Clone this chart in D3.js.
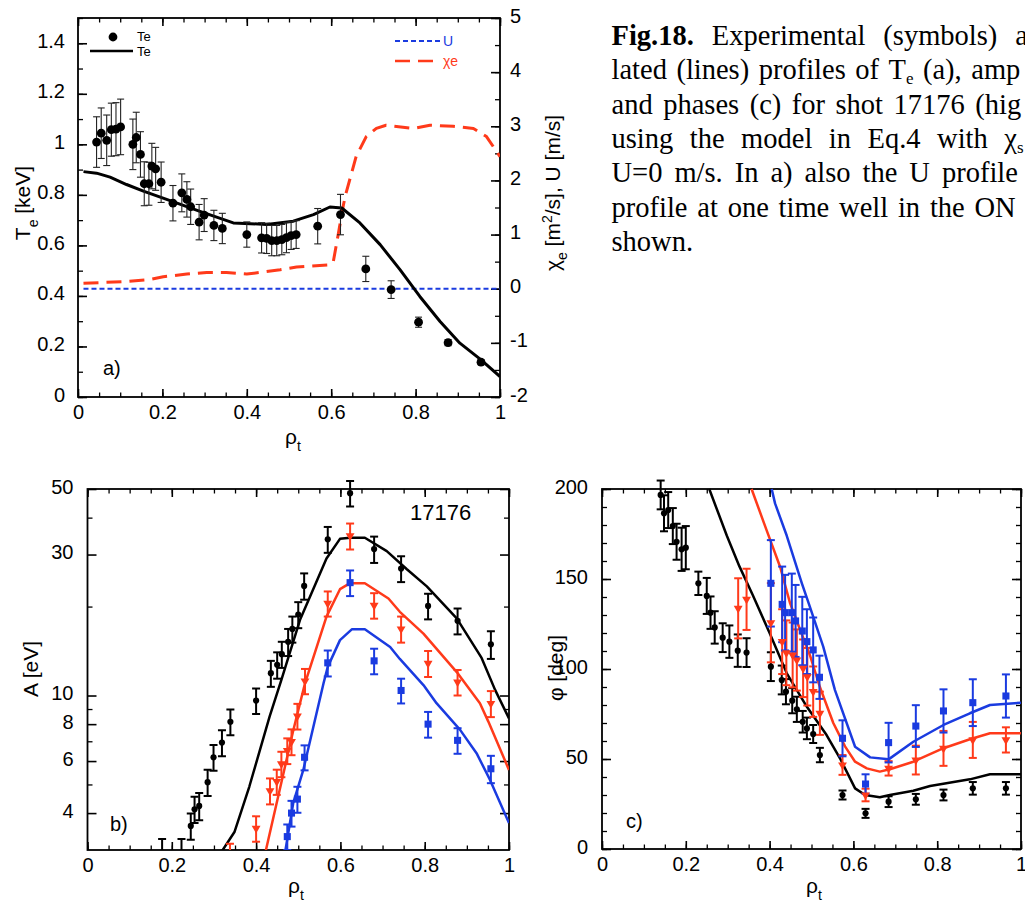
<!DOCTYPE html>
<html>
<head>
<meta charset="utf-8">
<script src="https://cdn.jsdelivr.net/npm/d3@7"></script>
<style>
  html, body { margin: 0; padding: 0; background: #fff; }
  svg { display: block; }
</style>
</head>
<body>
<svg id="fig" width="1025" height="906"></svg>
<script>
// ---------- data ----------
// a) Te points: [rho, Te keV, error]
const teData = [
  [0.044, 1.009, 0.10], [0.055, 1.044, 0.10], [0.068, 1.016, 0.10], [0.079, 1.058, 0.105],
  [0.090, 1.060, 0.105], [0.101, 1.069, 0.11], [0.130, 1.000, 0.10], [0.138, 1.027, 0.10],
  [0.148, 0.960, 0.09], [0.157, 0.844, 0.087], [0.168, 0.844, 0.085], [0.175, 0.914, 0.09],
  [0.184, 0.903, 0.085], [0.197, 0.850, 0.08], [0.225, 0.767, 0.07], [0.246, 0.808, 0.075],
  [0.258, 0.782, 0.07], [0.267, 0.753, 0.07], [0.287, 0.692, 0.07], [0.299, 0.720, 0.065],
  [0.322, 0.679, 0.06], [0.342, 0.667, 0.06], [0.400, 0.643, 0.05], [0.435, 0.630, 0.06],
  [0.447, 0.628, 0.06], [0.459, 0.619, 0.06], [0.471, 0.619, 0.06], [0.483, 0.623, 0.06],
  [0.494, 0.631, 0.06], [0.505, 0.639, 0.055], [0.517, 0.643, 0.055], [0.568, 0.676, 0.07],
  [0.622, 0.722, 0.08], [0.682, 0.507, 0.05], [0.742, 0.425, 0.035], [0.807, 0.296, 0.02],
  [0.877, 0.215, 0.012], [0.955, 0.138, 0.01]
];
// a) model Te line [rho, Te]
const teModel = [
  [0.013, 0.892], [0.044, 0.886], [0.076, 0.870], [0.115, 0.841], [0.155, 0.815],
  [0.21, 0.782], [0.289, 0.735], [0.368, 0.689], [0.447, 0.683], [0.51, 0.696],
  [0.558, 0.722], [0.597, 0.752], [0.625, 0.748], [0.668, 0.689], [0.716, 0.603],
  [0.763, 0.504], [0.81, 0.398], [0.858, 0.299], [0.905, 0.213], [0.953, 0.15], [1.0, 0.081]
];
// a) chi_e and U (right axis) [rho, value]
const chiModel = [
  [0.013, 0.10], [0.108, 0.13], [0.17, 0.17], [0.202, 0.22], [0.258, 0.27], [0.305, 0.30],
  [0.352, 0.30], [0.40, 0.27], [0.43, 0.30], [0.479, 0.35], [0.518, 0.40], [0.597, 0.44],
  [0.605, 0.50], [0.617, 1.02], [0.629, 1.55], [0.635, 1.76], [0.659, 2.44], [0.683, 2.81],
  [0.707, 2.96], [0.73, 3.02], [0.794, 2.96], [0.834, 3.02], [0.889, 3.0], [0.937, 2.96],
  [0.968, 2.81], [1.0, 2.44]
];
const uModel = [[0.013, 0], [1.0, 0]];

// b) amplitudes [rho, A eV, error]
const ampBlack = [
  [0.177, 2.85, 0.42], [0.223, 2.85, 0.42], [0.245, 3.62, 0.37], [0.254, 4.12, 0.42],
  [0.265, 4.23, 0.45], [0.285, 5.09, 0.52], [0.299, 6.18, 0.62], [0.319, 6.93, 0.70],
  [0.339, 8.15, 0.82], [0.400, 9.61, 0.95], [0.435, 11.9, 1.2], [0.450, 12.7, 1.3],
  [0.461, 13.8, 1.4], [0.476, 15.2, 1.6], [0.486, 16.8, 1.7], [0.500, 18.8, 1.9],
  [0.514, 23.5, 2.4], [0.570, 33.8, 3.4], [0.623, 48.4, 4.8], [0.680, 31.3, 3.2],
  [0.744, 26.9, 2.7], [0.808, 20.1, 2.0], [0.878, 17.9, 1.8], [0.957, 14.9, 1.6]
];
const ampRed = [
  [0.338, 2.85, 0.3], [0.400, 3.55, 0.35], [0.433, 4.76, 0.48], [0.449, 5.11, 0.5],
  [0.460, 5.87, 0.58], [0.474, 6.51, 0.65], [0.484, 6.98, 0.7], [0.498, 8.52, 0.85],
  [0.516, 11.2, 1.1], [0.570, 20.5, 2.0], [0.623, 34.7, 3.5], [0.680, 20.2, 2.0],
  [0.744, 16.8, 1.7], [0.808, 12.85, 1.3], [0.878, 11.1, 1.1], [0.957, 9.4, 0.95]
];
const ampBlue = [
  [0.474, 3.33, 0.33], [0.484, 4.0, 0.4], [0.498, 4.46, 0.45], [0.515, 6.18, 0.6],
  [0.570, 12.9, 1.3], [0.623, 24.1, 2.4], [0.680, 13.1, 1.3], [0.744, 10.4, 1.0],
  [0.808, 8.0, 0.8], [0.878, 7.05, 0.7], [0.957, 5.65, 0.6]
];
const ampBlackModel = [
  [0.314, 2.9], [0.349, 3.46], [0.384, 4.92], [0.432, 8.48], [0.46, 11.3], [0.504, 18.0],
  [0.567, 29.1], [0.599, 33.9], [0.623, 34.2], [0.658, 34.2], [0.71, 30.8], [0.757, 26.8],
  [0.805, 23.4], [0.876, 18.25], [0.935, 13.4], [0.967, 10.45], [1.0, 8.37]
];
const ampRedModel = [
  [0.421, 2.9], [0.488, 7.6], [0.516, 11.0], [0.567, 18.5], [0.599, 22.9], [0.623, 24.0],
  [0.658, 24.0], [0.714, 21.3], [0.741, 19.2], [0.797, 16.2], [0.876, 12.0], [0.931, 9.42],
  [0.951, 8.16], [1.0, 5.6]
];
const ampBlueModel = [
  [0.468, 2.9], [0.488, 4.32], [0.512, 5.6], [0.56, 11.0], [0.57, 12.5], [0.599, 15.4],
  [0.627, 16.75], [0.658, 16.75], [0.718, 14.6], [0.741, 13.3], [0.797, 10.85], [0.828, 9.42],
  [0.884, 7.65], [0.923, 6.38], [0.955, 5.18], [1.0, 3.7]
];

// c) phases [rho, phi deg, error]
const phBlack = [
  [0.140, 196.7, 8], [0.148, 186.5, 10], [0.158, 188.3, 10], [0.169, 179.4, 10],
  [0.178, 170.7, 10], [0.190, 166.5, 12], [0.200, 167.4, 12], [0.230, 147.6, 6.5],
  [0.250, 140.6, 10], [0.259, 131.3, 9], [0.269, 123.1, 9], [0.288, 117.4, 8],
  [0.304, 115.2, 9], [0.324, 110.2, 9], [0.345, 109.1, 8], [0.403, 101.3, 8],
  [0.429, 93.9, 8], [0.439, 87.4, 7], [0.454, 82.4, 7], [0.465, 77.6, 7],
  [0.479, 70.7, 6], [0.489, 67.0, 6], [0.504, 63.9, 5], [0.520, 52.2, 4],
  [0.574, 30.0, 2.5], [0.629, 19.8, 2.5], [0.684, 26.3, 3], [0.749, 27.6, 3],
  [0.815, 30.0, 3], [0.885, 33.7, 3.5], [0.964, 33.7, 3.5]
];
const phRed = [
  [0.325, 133.7, 16.7], [0.345, 138.7, 17], [0.403, 125.7, 22], [0.430, 115.2, 18],
  [0.440, 109.0, 18], [0.455, 107.8, 18], [0.465, 105.0, 17], [0.480, 100.4, 16],
  [0.490, 95.7, 16], [0.504, 87.4, 14], [0.520, 75.4, 12], [0.574, 46.7, 5.5],
  [0.629, 30.0, 3.5], [0.684, 44.8, 4], [0.749, 49.4, 8], [0.815, 55.9, 9.7],
  [0.885, 60.6, 10], [0.964, 60.6, 7]
];
const phBlue = [
  [0.403, 147.6, 24], [0.430, 135.9, 21], [0.437, 131.3, 21], [0.453, 131.3, 21.7],
  [0.462, 126.7, 20], [0.478, 121.1, 19], [0.489, 115.2, 18], [0.504, 110.6, 18],
  [0.519, 95.4, 12], [0.574, 61.5, 10], [0.629, 36.1, 5.4], [0.684, 59.1, 11],
  [0.749, 68.3, 11.6], [0.815, 76.7, 12], [0.885, 81.3, 13], [0.964, 85.0, 12]
];
const phBlackModel = [
  [0.256, 200], [0.298, 174], [0.328, 157], [0.36, 141], [0.40, 120], [0.441, 97.6],
  [0.489, 79], [0.536, 63.3], [0.568, 50.4], [0.604, 33.7], [0.628, 30], [0.663, 28.7],
  [0.687, 30], [0.743, 32.4], [0.783, 35], [0.878, 38.7], [0.926, 41.5], [1.0, 41.5]
];
const phRedModel = [
  [0.357, 200], [0.393, 177], [0.425, 156.8], [0.449, 136.5], [0.473, 121.7], [0.496, 107.8],
  [0.52, 90], [0.552, 70], [0.58, 57], [0.604, 48.5], [0.632, 44.8], [0.663, 43], [0.687, 44.3],
  [0.743, 48.5], [0.815, 56], [0.878, 61], [0.926, 64.3], [1.0, 64.3]
];
const phBlueModel = [
  [0.405, 200], [0.413, 192], [0.441, 174], [0.477, 147.6], [0.496, 134.6], [0.528, 112.4],
  [0.556, 88.3], [0.604, 56.8], [0.64, 50.9], [0.684, 49.8], [0.743, 59.6], [0.815, 68.9],
  [0.878, 75.4], [0.926, 80], [1.0, 81.3]
];

// tick labels
const rhoTicks = [0, 0.2, 0.4, 0.6, 0.8, 1];
const teTicks = [0, 0.2, 0.4, 0.6, 0.8, 1, 1.2, 1.4];
const chiTicks = [-2, -1, 0, 1, 2, 3, 4, 5];
const ampTicks = [4, 6, 8, 10, 30, 50];
const ampMinorTicks = [5, 7, 9, 20, 40];
const phTicks = [0, 50, 100, 150, 200];

const caption = [
  "Fig.18. Experimental (symbols) a",
  "lated (lines) profiles of T_e (a), amp",
  "and phases (c) for shot 17176 (hig",
  "using the model in Eq.4 with χ_s",
  "U=0 m/s. In a) also the U profile",
  "profile at one time well in the ON",
  "shown."
];

// ---------- drawing ----------
const SANS = "'Liberation Sans', Arial, Helvetica, sans-serif";
const SERIF = "'Liberation Serif', 'Times New Roman', Times, serif";
const RED = "#ff3a1a", BLUE = "#1a3be0";

const svg = d3.select("#fig");
svg.append("rect").attr("width", 1025).attr("height", 906).attr("fill", "#fff");

// scales
const xa = d3.scaleLinear().domain([0, 1]).range([78, 500]);
const ya = d3.scaleLinear().domain([0, 1.5]).range([397, 18]);
const ya2 = d3.scaleLinear().domain([-2, 5]).range([397, 18]);
const xb = d3.scaleLinear().domain([0, 1]).range([87.5, 509]);
const yb = d3.scaleLog().domain([3, 50]).range([850, 489]);
const xc = d3.scaleLinear().domain([0, 1]).range([602, 1021]);
const yc = d3.scaleLinear().domain([0, 200]).range([849, 489]);

function styleAxis(sel, sw) {
  sel.select(".domain").remove();
  sel.selectAll("line").attr("stroke", "#000").attr("stroke-width", sw);
  sel.selectAll("text").attr("font-family", SANS).attr("font-size", 20).attr("fill", "#000");
}

// inward-ticked frame with labels on bottom/left (and optionally right)
function drawAxes(x, y, o) {
  const g = svg.append("g");
  const [xl, xr] = x.range();
  const [yB, yT] = y.range();
  const minor = (axis, vals, len) => axis.tickValues(vals).tickSize(-len).tickFormat(() => "");

  g.append("g").attr("transform", `translate(0,${yB})`)
    .call(minor(d3.axisBottom(x), o.xMinor, 4.5)).call(styleAxis, 1.3);
  g.append("g").attr("transform", `translate(0,${yT})`)
    .call(minor(d3.axisTop(x), o.xMinor, 4.5)).call(styleAxis, 1.3);
  g.append("g").attr("transform", `translate(0,${yB})`)
    .call(d3.axisBottom(x).tickValues(o.xMajor).tickSize(-8).tickPadding(8).tickFormat(d => String(d)))
    .call(styleAxis, 1.6);
  g.append("g").attr("transform", `translate(0,${yT})`)
    .call(minor(d3.axisTop(x), o.xMajor, 8)).call(styleAxis, 1.6);

  g.append("g").attr("transform", `translate(${xl},0)`)
    .call(minor(d3.axisLeft(y), o.yMinor, 5)).call(styleAxis, 1.3);
  g.append("g").attr("transform", `translate(${xl},0)`)
    .call(d3.axisLeft(y).tickValues(o.yMajor).tickSize(-9).tickPadding(o.yPad).tickFormat(d => String(d)))
    .call(styleAxis, 1.6)
    .selectAll("text").attr("dy", "0.2em");

  if (o.y2) {
    g.append("g").attr("transform", `translate(${xr},0)`)
      .call(minor(d3.axisRight(o.y2), o.y2Minor, 5)).call(styleAxis, 1.3);
    g.append("g").attr("transform", `translate(${xr},0)`)
      .call(d3.axisRight(o.y2).tickValues(o.y2Major).tickSize(-9).tickPadding(10).tickFormat(d => String(d)))
      .call(styleAxis, 1.6)
      .selectAll("text").attr("dy", "0.2em");
  } else {
    g.append("g").attr("transform", `translate(${xr},0)`)
      .call(minor(d3.axisRight(y), o.yMinor, 5)).call(styleAxis, 1.3);
    g.append("g").attr("transform", `translate(${xr},0)`)
      .call(minor(d3.axisRight(y), o.yMajor, 9)).call(styleAxis, 1.6);
  }

  g.append("rect").attr("x", xl).attr("y", yT).attr("width", xr - xl).attr("height", yB - yT)
    .attr("fill", "none").attr("stroke", "#000").attr("stroke-width", 1.8);
}

function clipFor(id, x, y) {
  const [xl, xr] = x.range();
  const [yB, yT] = y.range();
  svg.append("clipPath").attr("id", id).append("rect")
    .attr("x", xl).attr("y", yT - 25).attr("width", xr - xl).attr("height", yB - yT + 25);
  return svg.append("g").attr("clip-path", `url(#${id})`);
}

function drawLine(g, data, x, y, color, width, dash) {
  g.append("path").datum(data)
    .attr("d", d3.line().x(d => x(d[0])).y(d => y(d[1])))
    .attr("fill", "none").attr("stroke", color).attr("stroke-width", width)
    .attr("stroke-dasharray", dash || null).attr("stroke-linejoin", "round");
}

function drawErr(g, data, x, y, color, cap, sw) {
  const e = g.append("g").attr("stroke", color).attr("stroke-width", sw);
  e.selectAll(".v").data(data).join("line").attr("class", "v")
    .attr("x1", d => x(d[0])).attr("x2", d => x(d[0]))
    .attr("y1", d => y(d[1] - d[2])).attr("y2", d => y(d[1] + d[2]));
  e.selectAll(".t").data(data).join("line").attr("class", "t")
    .attr("x1", d => x(d[0]) - cap / 2).attr("x2", d => x(d[0]) + cap / 2)
    .attr("y1", d => y(d[1] + d[2])).attr("y2", d => y(d[1] + d[2]));
  e.selectAll(".b").data(data).join("line").attr("class", "b")
    .attr("x1", d => x(d[0]) - cap / 2).attr("x2", d => x(d[0]) + cap / 2)
    .attr("y1", d => y(d[1] - d[2])).attr("y2", d => y(d[1] - d[2]));
}

function drawMarks(g, data, x, y, type, size, color, flip) {
  g.append("g").selectAll("path").data(data).join("path")
    .attr("d", d3.symbol().type(type).size(size))
    .attr("transform", d => `translate(${x(d[0])},${y(d[1])})` + (flip ? " rotate(180)" : ""))
    .attr("fill", color);
}

function label(x, y, parts, o = {}) {
  const t = svg.append("text").attr("x", x).attr("y", y)
    .attr("font-family", o.font || SANS).attr("font-size", o.size || 20)
    .attr("fill", o.fill || "#000");
  if (o.rotate) t.attr("transform", `rotate(-90,${x},${y})`).attr("text-anchor", "middle");
  let shift = 0;
  parts.forEach(p => {
    const s = typeof p === "string" ? { t: p, dy: 0 } : p;
    const span = t.append("tspan").text(s.t);
    const dy = s.dy - shift;
    if (dy) span.attr("dy", dy);
    shift = s.dy;
    if (s.size) span.attr("font-size", s.size);
  });
  return t;
}

// ----- panel a -----
drawAxes(xa, ya, {
  xMajor: rhoTicks, xMinor: d3.range(0, 1.001, 0.05),
  yMajor: teTicks, yMinor: d3.range(0, 1.501, 0.1), yPad: 13,
  y2: ya2, y2Major: chiTicks, y2Minor: d3.range(-2, 5.01, 0.5)
});
const ga = clipFor("clipA", xa, ya);
drawLine(ga, uModel, xa, ya2, BLUE, 2, "5,3");
drawLine(ga, chiModel, xa, ya2, RED, 3, "15,8");
drawLine(ga, teModel, xa, ya, "#000", 3);
drawErr(ga, teData, xa, ya, "#222", 7, 1.1);
ga.append("g").selectAll("circle").data(teData).join("circle")
  .attr("cx", d => xa(d[0])).attr("cy", d => ya(d[1])).attr("r", 4.4).attr("fill", "#000");

// legend a
svg.append("circle").attr("cx", 113).attr("cy", 37).attr("r", 4.4).attr("fill", "#000");
label(137, 41, ["Te"], { size: 13 });
svg.append("line").attr("x1", 90).attr("x2", 133).attr("y1", 51).attr("y2", 51)
  .attr("stroke", "#000").attr("stroke-width", 2.5);
label(137, 56, ["Te"], { size: 13 });
svg.append("line").attr("x1", 395).attr("x2", 440).attr("y1", 41).attr("y2", 41)
  .attr("stroke", BLUE).attr("stroke-width", 2).attr("stroke-dasharray", "5,3");
label(443, 46, ["U"], { size: 14, fill: BLUE });
svg.append("line").attr("x1", 395).attr("x2", 440).attr("y1", 61).attr("y2", 61)
  .attr("stroke", RED).attr("stroke-width", 2.5).attr("stroke-dasharray", "15,8");
label(443, 66, ["χe"], { size: 14, fill: RED });

label(103, 375, ["a)"]);
label(30, 203, ["T", { t: "e", dy: 8, size: 14 }, { t: " [keV]", dy: 0 }], { rotate: true, size: 21 });
label(560, 193, ["χ", { t: "e", dy: 7, size: 14 }, { t: " [m", dy: 0 }, { t: "2", dy: -8, size: 14 },
  { t: "/s], U [m/s]", dy: 0 }], { rotate: true, size: 21 });
label(285, 444, ["ρ", { t: "t", dy: 7, size: 14 }], { size: 21 });

// ----- panel b -----
drawAxes(xb, yb, {
  xMajor: rhoTicks, xMinor: d3.range(0, 1.001, 0.05),
  yMajor: ampTicks, yMinor: ampMinorTicks, yPad: 14
});
const gb = clipFor("clipB", xb, yb);
drawLine(gb, ampBlackModel, xb, yb, "#000", 2.5);
drawLine(gb, ampRedModel, xb, yb, RED, 2.5);
drawLine(gb, ampBlueModel, xb, yb, BLUE, 2.5);
drawErr(gb, ampBlack, xb, yb, "#000", 8, 2);
drawErr(gb, ampRed, xb, yb, RED, 8, 2);
drawErr(gb, ampBlue, xb, yb, BLUE, 8, 2);
drawMarks(gb, ampBlack, xb, yb, d3.symbolCircle, 30, "#000");
drawMarks(gb, ampRed, xb, yb, d3.symbolTriangle, 34, RED, true);
drawMarks(gb, ampBlue, xb, yb, d3.symbolSquare, 50, BLUE);

label(110, 831, ["b)"]);
label(410, 520, ["17176"], { size: 22 });
label(38, 669, ["A [eV]"], { rotate: true, size: 21 });
label(288, 893, ["ρ", { t: "t", dy: 7, size: 14 }], { size: 21 });

// ----- panel c -----
drawAxes(xc, yc, {
  xMajor: rhoTicks, xMinor: d3.range(0, 1.001, 0.05),
  yMajor: phTicks, yMinor: d3.range(0, 200.1, 10), yPad: 14
});
const gc = clipFor("clipC", xc, yc);
drawLine(gc, phBlackModel, xc, yc, "#000", 2.5);
drawLine(gc, phRedModel, xc, yc, RED, 2.5);
drawLine(gc, phBlueModel, xc, yc, BLUE, 2.5);
drawErr(gc, phBlack, xc, yc, "#000", 8, 2);
drawErr(gc, phRed, xc, yc, RED, 8, 2);
drawErr(gc, phBlue, xc, yc, BLUE, 8, 2);
drawMarks(gc, phBlack, xc, yc, d3.symbolCircle, 30, "#000");
drawMarks(gc, phRed, xc, yc, d3.symbolTriangle, 34, RED, true);
drawMarks(gc, phBlue, xc, yc, d3.symbolSquare, 50, BLUE);

label(626, 828, ["c)"]);
label(563, 668, ["φ [deg]"], { rotate: true, size: 21 });
label(806, 893, ["ρ", { t: "t", dy: 7, size: 14 }], { size: 21 });

// ----- caption (justified column, cut at the right edge) -----
const capGap = [18, 9.5, 10.5, 16.5, 12, 9.8, 0];
caption.forEach((line, i) => {
  let cx = 611.5;
  const cy = 45 + i * 34.3;
  line.split(" ").forEach((word, j) => {
    const t = svg.append("text").attr("x", cx).attr("y", cy)
      .attr("font-family", SERIF).attr("font-size", 28.5).attr("fill", "#000");
    if (i === 0 && j === 0) t.attr("font-weight", "bold");
    const [base, sub] = word.split("_");
    t.append("tspan").text(base);
    if (sub) t.append("tspan").text(sub).attr("font-size", 17).attr("dy", 5);
    cx += t.node().getComputedTextLength() + capGap[i];
  });
});
</script>
</body>
</html>
